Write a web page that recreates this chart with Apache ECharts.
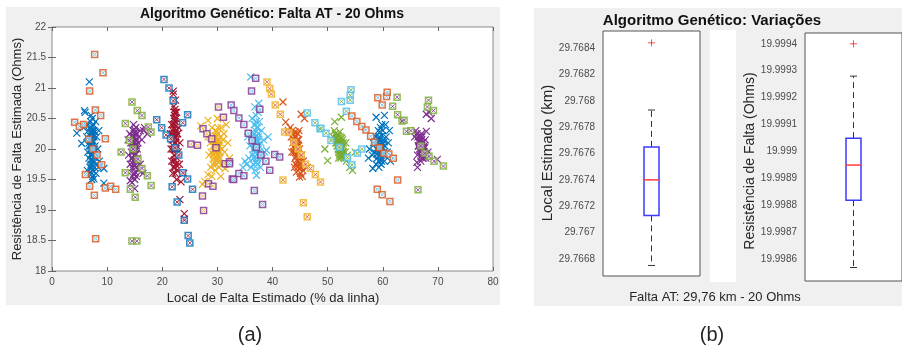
<!DOCTYPE html>
<html>
<head>
<meta charset="utf-8">
<script src="https://cdn.jsdelivr.net/npm/echarts@6/dist/echarts.min.js"></script>
<style>
  html, body { margin: 0; background: #fff; }
  #chart { width: 902px; height: 350px; }
</style>
</head>
<body>
<div id="chart"></div>
<script>
// (a) scatter: estimated fault location (% of line) x estimated resistance (Ohms)
// dense 'x' clouds, one per simulated fault location
const core1 = [[7.2,20.0],[7.4,20.1],[7.0,19.9],[7.6,19.95],[6.9,20.15],[7.3,20.25],[7.5,19.8],[7.1,19.75],[7.8,20.05],[6.8,20.05],[7.2,20.35],[7.5,20.4],[6.6,20.3],[7.9,19.85],[7.3,19.65],[6.9,19.7],[7.7,19.7],[8.1,20.2],[6.5,19.95],[7.0,20.45],[7.6,20.3],[8.3,20.0],[6.3,20.2],[7.4,19.55],[6.7,19.85],[8.0,19.6],[7.1,20.55],[7.9,20.45],[6.2,20.4],[8.5,20.3],[6.0,20.6],[5.7,20.35],[8.6,19.8],[7.2,19.5],[6.4,19.65],[8.4,19.7],[7.6,20.2],[7.0,20.05],[7.35,19.9],[7.15,20.2],[6.77,21.1],[5.9,20.63],[4.5,20.26],[5.4,20.09],[9.4,19.68],[9.4,19.44],[7.6,19.51],
  [7.25,20.05],[7.45,19.98],[7.05,20.08],[7.3,19.82],[7.15,19.92],[7.55,20.12],[6.95,19.98],[7.4,20.3],[7.2,20.15],[7.6,19.88],[7.0,19.82],[7.35,20.38],[7.1,20.3],[7.5,19.72],[7.25,19.6],[6.85,20.22],[7.7,20.0],[7.45,20.22],[6.75,20.1],[7.8,20.28],[7.05,19.62],[7.65,19.78],[7.3,20.5],[6.9,20.35],[7.2,19.7]];
const core2 = [[14.9,20.0],[15.1,19.9],[14.7,20.1],[15.0,20.2],[14.6,19.85],[15.3,20.05],[14.8,19.75],[15.2,19.7],[14.5,20.2],[15.4,20.25],[14.9,19.6],[14.4,19.95],[15.5,19.85],[14.7,20.3],[15.2,20.35],[14.3,20.1],[15.6,20.1],[14.6,19.55],[15.0,19.5],[14.2,19.75],[15.8,20.2],[14.8,20.4],[15.7,19.65],[14.1,20.25],[16.0,20.3],[14.5,19.45],[15.3,19.55],[16.3,20.15],[13.9,19.9],[16.6,20.3],[15.0,19.35],[14.95,20.05],[15.1,20.1],[14.75,19.95],[16.8,20.35],[17.3,20.25],[14.2,19.48],[16.0,19.75],[16.5,19.6],[13.8,20.15],
  [14.85,19.9],[15.05,20.0],[14.65,20.0],[15.15,20.15],[14.9,20.25],[14.75,19.8],[15.25,19.92],[14.55,20.1],[15.0,19.72],[14.85,20.12],[15.35,20.15],[14.6,19.7],[15.1,19.62],[14.45,19.85],[15.45,20.0],[14.95,20.32],[14.7,20.2],[15.2,19.82],[14.8,19.58],[15.05,20.28]];
const core3 = [[22.3,20.1],[22.1,20.2],[22.5,20.0],[22.2,19.9],[22.4,20.3],[22.0,20.05],[22.6,20.15],[22.3,20.4],[21.9,20.3],[22.7,19.85],[22.1,19.8],[22.5,20.5],[22.2,20.55],[21.8,20.15],[22.8,20.25],[22.0,19.7],[22.4,19.75],[22.6,20.6],[21.7,20.4],[22.9,19.95],[22.3,20.65],[21.6,20.0],[23.0,20.35],[22.1,20.7],[22.7,19.65],[21.9,19.6],[23.2,20.1],[21.5,20.25],[22.4,20.8],[22.0,20.9],[21.7,19.8],[23.1,19.75],[22.35,20.0],[22.25,20.2],[23.4,19.46],[23.2,19.17],[24.0,18.94],[23.9,19.6],[22.0,20.95],[22.6,19.5],[24.0,18.85],
  [22.2,20.0],[22.45,20.1],[22.15,20.35],[22.35,20.25],[22.05,20.15],[22.55,19.92],[22.25,19.82],[22.4,20.45],[22.1,20.5],[22.6,20.3],[21.95,20.0],[22.5,20.2],[22.3,19.7],[22.2,20.6],[21.85,20.25],[22.65,20.05],[22.35,19.6],[22.0,20.4],[22.45,20.6],[22.15,19.9]];
const core4 = [[29.8,20.0],[30.0,20.1],[29.5,19.95],[30.2,19.9],[29.6,20.15],[30.4,20.05],[29.3,20.05],[29.9,19.8],[30.1,20.25],[29.4,19.85],[30.6,20.2],[29.1,20.2],[30.5,19.85],[29.7,20.3],[28.9,19.95],[30.8,20.0],[29.2,19.75],[30.3,19.7],[28.7,20.1],[31.0,20.15],[29.6,19.65],[30.7,20.35],[28.5,19.9],[31.3,19.95],[29.0,20.35],[30.9,19.75],[28.8,19.7],[31.2,20.25],[28.3,20.2],[29.85,20.05],[30.05,19.98],[27.0,20.38],[28.3,20.47],[31.9,20.1],[32.2,19.85],[30.6,19.55],[31.4,19.68],[28.3,19.58],[27.7,19.47],[29.0,19.55],[27.3,19.42],[30.0,20.5],[31.6,20.4],
  [29.7,20.05],[29.95,19.95],[29.55,20.08],[30.15,20.05],[29.8,20.2],[29.65,19.88],[30.25,20.15],[29.45,19.98],[30.0,19.85],[29.85,20.28],[29.35,20.12],[30.35,19.95],[29.75,19.75],[30.1,20.35],[29.5,19.78],[30.45,20.1],[29.25,19.9],[29.9,20.12],[30.2,19.78],[29.6,20.22]];
const core5 = [[37.0,20.05],[37.2,20.15],[36.8,19.95],[37.4,20.0],[36.6,20.1],[37.1,19.85],[36.9,20.3],[37.5,20.25],[36.4,19.9],[37.7,19.9],[36.7,20.4],[37.3,19.75],[36.2,20.2],[37.9,20.1],[36.5,19.75],[38.0,20.3],[35.9,20.05],[37.6,20.45],[36.3,20.5],[38.2,19.85],[35.7,19.85],[37.0,20.55],[38.4,20.15],[35.5,20.2],[36.9,19.65],[37.8,19.7],[35.3,19.75],[38.6,19.95],[36.1,19.7],[37.4,20.6],[37.05,20.02],[36.95,20.1],[36.05,21.18],[36.8,20.69],[37.1,19.57],[34.6,19.7],[38.9,19.98],[35.0,19.8],[37.5,20.75],[39.2,20.2],
  [36.9,20.0],[37.15,20.05],[36.75,20.05],[37.3,20.12],[37.0,20.2],[36.85,19.88],[37.25,19.92],[36.6,20.0],[37.1,20.35],[36.95,19.78],[37.45,20.2],[36.7,20.25],[37.55,20.05],[36.45,20.12],[37.2,19.8],[36.8,20.4],[37.35,20.35],[36.55,19.85],[37.6,19.95],[37.05,20.45]];
const core6 = [[44.4,20.0],[44.2,20.1],[44.6,19.9],[44.0,20.2],[44.8,19.85],[44.3,19.95],[44.5,20.15],[43.8,20.25],[45.0,19.75],[44.1,19.85],[44.7,20.05],[43.6,20.3],[45.2,19.7],[44.9,20.0],[43.9,20.05],[45.3,19.9],[43.7,20.1],[45.5,19.65],[44.2,19.75],[44.6,20.25],[43.4,20.2],[45.1,19.6],[44.0,19.7],[45.6,19.8],[43.5,19.95],[44.8,20.3],[43.2,20.35],[45.4,19.55],[44.45,20.02],[44.35,19.98],[41.9,20.77],[42.4,20.44],[45.2,20.57],[44.9,19.54],[42.9,20.3],[45.8,20.5],[46.3,19.7],
  [44.3,20.05],[44.5,19.95],[44.15,20.12],[44.7,19.92],[44.4,20.12],[44.25,19.88],[44.6,20.08],[44.05,20.02],[44.85,19.78],[44.45,19.82],[44.1,20.28],[44.75,20.15],[43.95,20.15],[45.05,19.88],[44.55,19.7],[44.2,20.2],[44.9,19.68],[43.85,19.95],[44.65,19.8],[44.35,19.62]];
const core7 = [[52.2,20.05],[52.0,20.1],[52.4,20.0],[51.8,20.15],[52.6,19.95],[52.1,19.95],[52.3,20.2],[51.6,20.2],[52.8,19.9],[51.9,20.0],[52.5,20.1],[51.4,20.25],[53.0,19.85],[52.7,20.15],[51.7,20.05],[53.2,19.95],[51.2,20.3],[52.4,19.85],[53.4,19.8],[51.5,20.1],[52.9,20.05],[51.0,20.2],[53.6,19.9],[52.2,20.28],[50.8,20.15],[53.3,20.1],[52.0,19.85],[52.25,20.02],[52.5,20.52],[54.5,19.65],[50.0,19.81],[54.0,19.7],[51.3,20.45],[55.0,19.95],[49.5,20.0],
  [52.1,20.08],[52.3,20.0],[51.95,20.12],[52.5,19.98],[52.2,20.15],[52.05,19.98],[52.4,20.12],[51.85,20.05],[52.65,20.02],[52.35,19.92],[51.75,20.18],[52.75,19.95],[52.15,19.9],[51.65,20.1],[52.55,20.18],[52.85,20.1],[51.9,20.22],[52.45,19.88]];
const core8 = [[59.5,20.05],[59.7,20.1],[59.3,19.95],[59.9,20.0],[59.1,20.1],[59.6,19.9],[59.4,20.2],[60.1,20.15],[58.9,20.0],[60.2,19.9],[59.2,20.3],[59.8,19.8],[58.7,20.2],[60.4,20.05],[59.0,19.85],[60.0,20.3],[58.5,19.95],[60.6,20.2],[59.6,20.35],[58.8,19.75],[60.3,19.8],[58.3,20.1],[60.8,19.95],[59.3,19.7],[60.5,20.4],[58.1,19.9],[61.0,20.1],[59.55,20.0],[59.45,20.08],[58.8,20.52],[60.3,20.55],[57.6,20.0],[58.2,19.68],[61.2,20.3],[57.4,19.85],[61.4,19.8],
  [59.4,20.02],[59.65,20.05],[59.25,20.05],[59.8,20.12],[59.5,20.15],[59.35,19.88],[59.75,19.95],[59.1,19.98],[60.0,20.08],[59.55,19.82],[59.2,20.18],[59.9,20.22],[59.05,20.12],[60.15,19.95],[59.7,19.75],[59.45,20.28],[58.95,19.92],[60.3,20.12],[59.25,19.8],[59.85,20.4]];
const core9 = [[67.0,20.05],[66.8,20.1],[67.2,20.0],[66.6,20.15],[67.4,19.95],[66.9,19.95],[67.1,20.2],[66.4,20.2],[67.6,19.9],[66.7,20.0],[67.3,20.1],[66.2,20.25],[67.8,19.85],[67.5,20.05],[66.5,20.05],[68.0,19.9],[66.0,20.3],[67.2,19.85],[68.2,19.95],[66.3,19.9],[67.7,20.15],[65.8,20.2],[66.9,19.8],[67.05,20.02],[67.9,20.57],[68.4,20.6],[67.9,20.29],[66.3,19.7],[69.9,19.83],[66.2,19.78],[68.8,20.5],
  [66.9,20.08],[67.1,20.05],[66.75,20.05],[67.3,20.0],[67.0,20.15],[66.85,19.98],[67.2,20.1],[66.65,20.1],[67.45,20.02],[67.15,19.92],[66.55,20.12],[67.5,19.95],[66.95,19.88],[67.35,19.85],[66.7,20.2],[67.6,20.02],[67.05,20.25],[66.45,20.05]];

// square-marked estimates around each cloud
const sq1 = [[7.74,21.55],[9.25,21.25],[6.83,20.95],[7.86,20.64],[8.83,20.55],[4.11,20.44],[4.96,20.37],[5.74,20.4],[6.65,20.16],[9.67,20.17],[7.38,20.0],[8.16,19.9],[9.0,19.74],[6.05,19.58],[6.83,19.39],[7.68,19.24],[9.67,19.36],[10.64,19.39],[11.55,19.34],[7.92,18.53]];
const sq2 = [[14.51,20.77],[15.48,20.63],[16.32,20.55],[13.3,20.42],[14.03,20.14],[12.52,19.95],[14.7,20.0],[15.6,19.83],[13.3,19.61],[16.32,19.68],[14.2,19.34],[15.1,19.21],[14.5,18.49],[15.4,18.49],[17.47,20.36],[17.96,20.28],[17.3,19.56],[17.98,19.4]];
const sq3 = [[20.32,21.14],[21.22,21.0],[21.97,20.79],[24.6,20.56],[19.0,20.48],[19.9,20.35],[23.7,20.43],[20.7,20.23],[21.5,20.17],[22.3,20.02],[23.0,19.9],[23.7,19.61],[24.6,19.51],[25.5,19.34],[21.8,19.38],[22.7,19.13],[24.0,18.83],[24.7,18.58],[25.0,18.46]];
const sq4 = [[30.2,20.69],[31.1,20.52],[27.4,20.33],[28.1,20.25],[25.2,20.08],[26.4,20.06],[28.97,20.17],[29.75,20.02],[31.4,19.76],[32.2,19.79],[32.7,19.51],[28.4,19.43],[29.2,19.39],[27.3,19.23],[27.5,18.99]];
const sq5 = [[36.95,21.16],[36.2,20.95],[37.7,20.65],[32.5,20.72],[32.99,20.63],[33.9,20.51],[34.8,20.4],[35.6,20.26],[36.3,20.14],[37.07,20.03],[37.9,19.9],[38.8,19.8],[39.5,19.65],[40.4,19.91],[41.3,19.87],[36.7,19.32],[38.2,19.09],[32.2,19.76],[32.96,19.5],[33.9,19.6],[34.8,19.56]];
const sq6 = [[39.0,21.1],[39.5,20.99],[39.8,20.9],[40.5,20.72],[41.4,20.57],[42.2,20.28],[42.99,20.27],[43.9,20.11],[44.6,20.0],[45.2,19.9],[46.0,19.75],[46.9,19.68],[47.77,19.58],[48.7,19.46],[41.9,19.49],[45.6,19.12],[46.3,18.89]];
const sq7 = [[54.24,20.97],[54.1,20.88],[54.1,20.8],[52.5,20.78],[53.4,20.62],[46.3,20.59],[47.7,20.43],[48.6,20.33],[48.8,20.34],[49.7,20.26],[50.6,20.14],[52.1,20.03],[53.6,19.86],[55.4,19.93],[56.2,20.0],[54.4,19.74]];
const sq8 = [[59.1,20.84],[59.9,20.72],[60.7,20.86],[60.8,20.93],[54.4,20.54],[55.3,20.45],[56.2,20.37],[56.96,20.31],[57.8,20.21],[58.5,20.11],[59.4,20.02],[60.2,19.93],[61.1,19.92],[61.9,19.85],[62.7,19.49],[59.0,19.34],[59.9,19.25],[61.3,19.14]];
const sq9 = [[62.6,20.85],[61.8,20.7],[62.7,20.56],[63.5,20.46],[64.3,20.29],[68.3,20.8],[68.1,20.69],[69.2,20.63],[63.86,20.47],[65.1,20.3],[66.9,20.05],[67.6,19.93],[68.4,19.88],[69.3,19.8],[71.0,19.72],[66.4,19.33]];

const scatterXTicks = { min: 0, max: 80, interval: 10 };
const scatterYTicks = { min: 18, max: 22, interval: 0.5 };

// (b) boxplots: [lower whisker, Q1, median, Q3, upper whisker]
const localStats = [29.76675, 29.76713, 29.7674, 29.76765, 29.76793];
const localOutliers = [29.76844];
const localTicks = [29.7668, 29.767, 29.7672, 29.7674, 29.7676, 29.7678, 29.768, 29.7682, 29.7684];
const resStats = [19.99857, 19.99882, 19.99895, 19.99905, 19.99928];
const resOutliers = [19.9994];
const resTicks = [19.9986, 19.9987, 19.9988, 19.9989, 19.999, 19.9991, 19.9992, 19.9993, 19.9994];

const C = {
  blue: '#0072BD', orange: '#D95319', yellow: '#EDB120', purple: '#7E2F8E',
  green: '#77AC30', cyan: '#4DBEEE', red: '#A2142F'
};
// [cloud colour, square edge, mark inside square]
const clusterColors = [
  [C.blue, C.orange, C.cyan],
  [C.purple, C.green, C.purple],
  [C.red, C.blue, C.red],
  [C.yellow, C.purple, C.yellow],
  [C.cyan, C.purple, C.cyan],
  [C.orange, C.yellow, C.orange],
  [C.green, C.cyan, C.green],
  [C.blue, C.orange, C.cyan],
  [C.purple, C.green, C.purple]
];
const cores = [core1, core2, core3, core4, core5, core6, core7, core8, core9];
const squares = [sq1, sq2, sq3, sq4, sq5, sq6, sq7, sq8, sq9];

const FONT = "'Liberation Sans', Arial, sans-serif";
const XMARK = 'path://M0 0L10 10M10 0L0 10';
const PLUS = 'path://M5 0L5 10M0 5L10 5';

const chart = echarts.init(document.getElementById('chart'));

function txt(text, x, y, size, extra) {
  return Object.assign({
    type: 'text', x: x, y: y, z: 20,
    style: { text: text, fontFamily: FONT, fontSize: size, fill: '#262626',
      align: 'center', verticalAlign: 'middle' }
  }, extra || {});
}
function bold(text, x, y, size) {
  return { type: 'text', x: x, y: y, z: 20,
    style: { text: text, fontFamily: FONT, fontSize: size, fontWeight: 'bold', fill: '#111',
      align: 'center', verticalAlign: 'middle' } };
}

const tickStyle = { inside: true, length: 4, lineStyle: { color: '#666', width: 1 } };
const tickLabel = { fontFamily: FONT, fontSize: 10, color: '#4a4a4a' };
const fmt4 = v => String(+(+v).toFixed(4));

function mirror(base, pos) {
  return Object.assign({}, base, { position: pos, axisLabel: { show: false } });
}

const sx = Object.assign({ gridIndex: 0, type: 'value', axisLine: { show: false },
  axisTick: tickStyle, splitLine: { show: false },
  axisLabel: Object.assign({ margin: 6 }, tickLabel) }, scatterXTicks);
const sy = Object.assign({ gridIndex: 0, type: 'value', axisLine: { show: false },
  axisTick: tickStyle, splitLine: { show: false },
  axisLabel: Object.assign({ margin: 6 }, tickLabel) }, scatterYTicks);

function boxX(g) {
  return { gridIndex: g, type: 'category', data: [''], boundaryGap: true,
    axisLine: { show: false }, axisTick: Object.assign({ alignWithLabel: true }, tickStyle),
    axisLabel: { show: false } };
}
function boxY(g, min, max, ticks) {
  return { gridIndex: g, type: 'value', min: min, max: max, scale: true,
    axisLine: { show: false }, splitLine: { show: false },
    axisTick: Object.assign({ customValues: ticks }, tickStyle),
    axisLabel: Object.assign({ customValues: ticks, formatter: fmt4, margin: 8 }, tickLabel) };
}

function renderBox(params, api) {
  const at = i => api.coord([0, api.value(i)]);
  const lo = at(1), q1 = at(2), md = at(3), q3 = at(4), hi = at(5);
  const x = md[0], hw = 7.5, cw = 3.5;
  const black = { stroke: '#333', lineWidth: 1 };
  const dash = { stroke: '#333', lineWidth: 1, lineDash: [6, 4] };
  return { type: 'group', children: [
    { type: 'line', shape: { x1: x, y1: q3[1], x2: x, y2: hi[1] }, style: dash },
    { type: 'line', shape: { x1: x, y1: q1[1], x2: x, y2: lo[1] }, style: dash },
    { type: 'line', shape: { x1: x - cw, y1: hi[1], x2: x + cw, y2: hi[1] }, style: black },
    { type: 'line', shape: { x1: x - cw, y1: lo[1], x2: x + cw, y2: lo[1] }, style: black },
    { type: 'rect', shape: { x: x - hw, y: q3[1], width: 2 * hw, height: q1[1] - q3[1] },
      style: { fill: '#fff', stroke: '#3b3bff', lineWidth: 1.5 } },
    { type: 'line', shape: { x1: x - hw, y1: md[1], x2: x + hw, y2: md[1] },
      style: { stroke: '#ff3b3b', lineWidth: 1.5 } }
  ] };
}

const series = [];
cores.forEach((pts, i) => {
  series.push({ type: 'scatter', xAxisIndex: 0, yAxisIndex: 0, data: pts,
    symbol: XMARK, symbolSize: 7,
    itemStyle: { color: 'transparent', borderColor: clusterColors[i][0], borderWidth: 1.2, opacity: 1 } });
});
squares.forEach((pts, i) => {
  series.push({ type: 'scatter', xAxisIndex: 0, yAxisIndex: 0, data: pts,
    symbol: 'rect', symbolSize: 6,
    itemStyle: { color: 'rgba(255,255,255,0.75)', borderColor: clusterColors[i][1], borderWidth: 1.5 } });
  series.push({ type: 'scatter', xAxisIndex: 0, yAxisIndex: 0, data: pts,
    symbol: XMARK, symbolSize: 4,
    itemStyle: { color: 'transparent', borderColor: clusterColors[i][2], borderWidth: 1 } });
});
[[localStats, localOutliers, 2], [resStats, resOutliers, 4]].forEach(([st, out, ax]) => {
  series.push({ type: 'custom', xAxisIndex: ax, yAxisIndex: ax,
    data: [[0].concat(st)], encode: { x: 0, y: [1, 2, 3, 4, 5] }, renderItem: renderBox });
  series.push({ type: 'scatter', xAxisIndex: ax, yAxisIndex: ax,
    data: out.map(v => [0, v]), symbol: PLUS, symbolSize: 7,
    itemStyle: { color: 'transparent', borderColor: '#ff2020', borderWidth: 1 } });
});

const by1 = boxY(1, 29.76667, 29.76853, localTicks);
const by2 = boxY(2, 19.99852, 19.99944, resTicks);

chart.setOption({
  animation: false,
  backgroundColor: '#fff',
  grid: [
    { left: 52, top: 27, width: 441, height: 244, show: true, backgroundColor: '#fff', borderColor: '#8a8a8a', borderWidth: 1 },
    { left: 603, top: 31, width: 97, height: 245, show: true, backgroundColor: '#fff', borderColor: '#555', borderWidth: 1 },
    { left: 805, top: 33, width: 97, height: 248, show: true, backgroundColor: '#fff', borderColor: '#555', borderWidth: 1 }
  ],
  xAxis: [sx, mirror(sx, 'top'), boxX(1), mirror(boxX(1), 'top'), boxX(2), mirror(boxX(2), 'top')],
  yAxis: [sy, mirror(sy, 'right'), by1, mirror(by1, 'right'), by2, mirror(by2, 'right')],
  series: series,
  graphic: [
    { type: 'rect', z: -10, shape: { x: 6, y: 7, width: 494, height: 298 }, style: { fill: '#f0f0f0' } },
    { type: 'rect', z: -10, shape: { x: 534, y: 8, width: 368, height: 298 }, style: { fill: '#f0f0f0' } },
    { type: 'rect', z: -9, shape: { x: 710, y: 30, width: 26, height: 252 }, style: { fill: '#fff' } },
    bold('Algoritmo Genético: Falta AT - 20 Ohms', 272, 14, 14),
    txt('Local de Falta Estimado (% da linha)', 273, 298, 13),
    txt('Resistência de Falta Estimada (Ohms)', 17, 149, 13, { rotation: Math.PI / 2 }),
    bold('Algoritmo Genético: Variações', 712, 21, 15),
    txt('Local Estimado (km)', 548, 153, 15, { rotation: Math.PI / 2 }),
    txt('Resistência de Falta (Ohms)', 750, 161, 14, { rotation: Math.PI / 2 }),
    txt('Falta AT: 29,76 km - 20 Ohms', 715, 297, 13),
    txt('(a)', 250, 335, 20),
    txt('(b)', 712, 335, 20)
  ]
});
</script>
</body>
</html>
